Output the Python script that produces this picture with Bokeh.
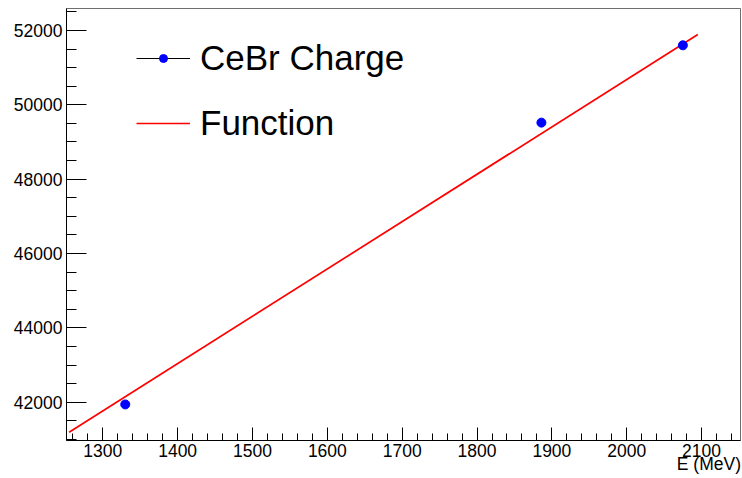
from bokeh.plotting import figure
from bokeh.models import (Range1d, SingleIntervalTicker, NumeralTickFormatter,
                          Legend, LegendItem)
from bokeh.embed import file_html
from bokeh.resources import INLINE

# Measured CeBr charge vs. beam energy
energy_mev = [1330, 1886, 2075]
charge = [41940, 49520, 51600]

# Linear fit drawn over its fit range
fit_x = [1255, 2095]
fit_y = [41190, 51890]

FONT = "Liberation Sans"
X0, X1 = 1251.5, 2152
Y0, Y1 = 40970, 52590

p = figure(width=742, height=478, output_backend="svg", toolbar_location=None,
           title=None, x_range=Range1d(X0, X1), y_range=Range1d(Y0, Y1),
           min_border_left=66, min_border_right=2, min_border_top=8, min_border_bottom=38)

p.background_fill_color = "white"
p.border_fill_color = "white"
p.outline_line_color = "#6e6e6e"
p.outline_line_width = 1
p.grid.visible = False

# x axis; the title is centred on the axis end, so pad it with
# non-breaking spaces to make its visible part end flush with the frame
p.xaxis.ticker = SingleIntervalTicker(interval=100, num_minor_ticks=5)
p.xaxis.major_tick_in = 13
p.xaxis.major_tick_out = 0
p.xaxis.minor_tick_in = 7
p.xaxis.minor_tick_out = 0
p.xaxis.major_label_standoff = 3
p.xaxis.axis_label = "E (MeV)" + "\u00a0" * 13
p.xaxis.axis_label_align = "end"
p.xaxis.axis_label_standoff = -6
p.xaxis.axis_label_text_font = FONT
p.xaxis.axis_label_text_font_size = "17.5px"
p.xaxis.axis_label_text_font_style = "normal"
p.xaxis.axis_label_text_color = "black"

# y axis
p.yaxis.ticker = SingleIntervalTicker(interval=2000, num_minor_ticks=4)
p.yaxis.formatter = NumeralTickFormatter(format="0")
p.yaxis.major_tick_in = 20
p.yaxis.major_tick_out = 0
p.yaxis.minor_tick_in = 10
p.yaxis.minor_tick_out = 0
p.yaxis.major_label_standoff = 4

for ax in (p.xaxis, p.yaxis):
    ax.axis_line_color = "black"
    ax.major_tick_line_color = "black"
    ax.minor_tick_line_color = "black"
    ax.major_label_text_font = FONT
    ax.major_label_text_font_size = "17.5px"
    ax.major_label_text_color = "black"

fit_r = p.line(fit_x, fit_y, line_color="#ff0000", line_width=1.7)
pts = p.scatter(energy_mev, charge, marker="circle", size=9,
                fill_color="#0000ff", line_color="#0000ff")
# black error-bar style stroke, only visible in the legend entry
nan = float("nan")
bar = p.line(x=[nan, nan], y=[nan, nan], line_color="black", line_width=1)

legend = Legend(items=[LegendItem(label="CeBr Charge", renderers=[bar, pts]),
                       LegendItem(label="Function", renderers=[fit_r])],
                location=(70, 297), orientation="vertical",
                padding=0, margin=0, spacing=25,
                glyph_width=54, glyph_height=20, label_standoff=10,
                label_text_font=FONT, label_text_font_size="35px",
                label_text_color="black",
                border_line_alpha=0, background_fill_alpha=0)
p.add_layout(legend)

open("out.html", "w").write(file_html(p, INLINE))
